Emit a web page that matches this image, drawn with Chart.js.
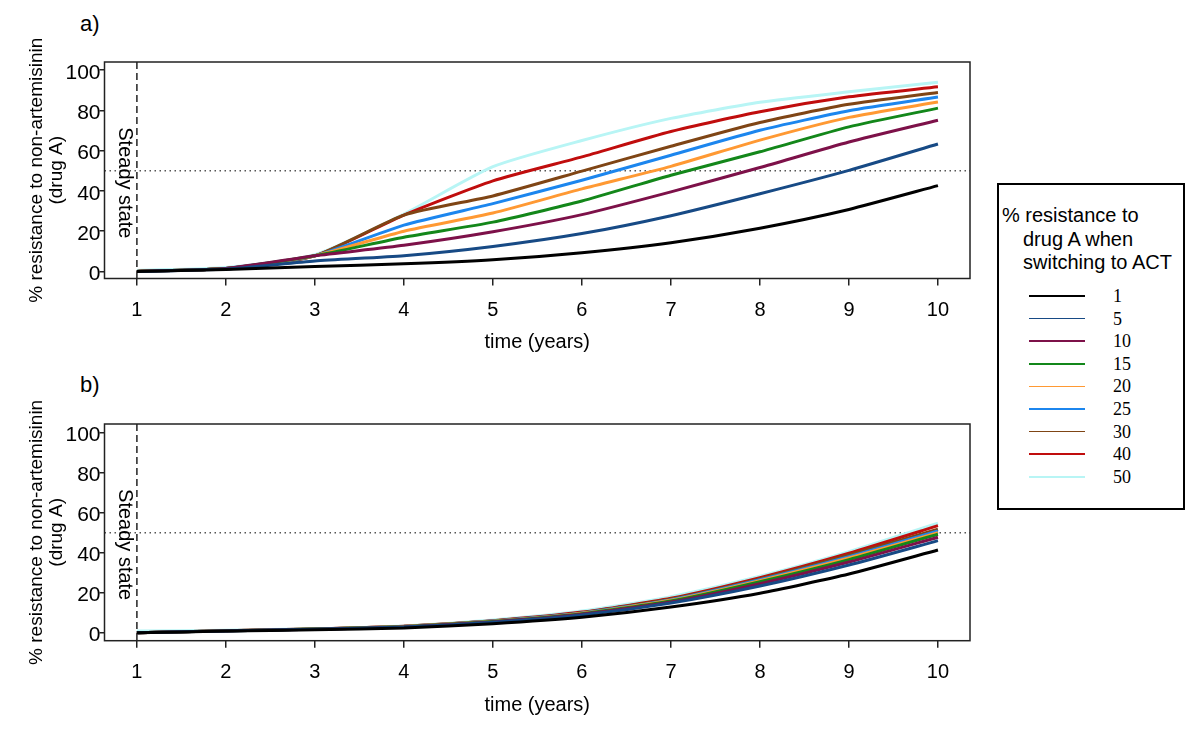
<!DOCTYPE html>
<html>
<head>
<meta charset="utf-8">
<script src="https://cdn.jsdelivr.net/npm/chart.js@4.4.0/dist/chart.umd.min.js"></script>
<style>
    body { margin:0; background:#fff; width:1200px; height:729px; position:relative; overflow:hidden;
           font-family:"Liberation Sans", Arial, sans-serif; color:#000; }
    canvas { position:absolute; left:0; }
    #chartA { top:0; }
    #chartB { top:364px; }
    .panel { position:absolute; left:80px; font-size:22px; line-height:26px; }
    #legend { position:absolute; left:997px; top:183px; width:184px; height:323px; border:2px solid #000; }
    #legendTitle { position:absolute; left:3px; top:19px; width:180px; font-size:20px; line-height:23.5px;
                   padding-left:21px; text-indent:-21px; box-sizing:border-box; }
    .lgLine { position:absolute; left:30px; width:56px; height:1.5px; }
    .lgText { position:absolute; left:114px; font-family:"Liberation Serif", "Times New Roman", serif;
              font-size:18px; line-height:20px; }
</style>
</head>
<body>
<div class="panel" style="top:11px">a)</div>
<div class="panel" style="top:372px">b)</div>
<canvas id="chartA" width="990" height="364"></canvas>
<canvas id="chartB" width="990" height="365"></canvas>
<div id="legend">
    <div id="legendTitle">% resistance to<br>drug A when<br>switching to ACT</div>
</div>
<script>
const years = [1, 2, 3, 4, 5, 6, 7, 8, 9, 10]
const yTicks = [0, 20, 40, 60, 80, 100]

const seriesNames = ['1', '5', '10', '15', '20', '25', '30', '40', '50']
const seriesColors = ['#000000', '#174a85', '#7d1149', '#13871a', '#ff9933',
                      '#1c86ee', '#7f4515', '#c00d0d', '#b8f5f5']

// panel a)
const topS1  = [0, 1.0, 2.5, 3.8, 5.8, 9.3, 14.3, 21.5, 30.8, 42.6]
const topS5  = [0, 1.2, 5.2, 7.8, 12.4, 18.8, 27.7, 38.6, 50.2, 63.3]
const topS10 = [0, 1.5, 7.8, 13.0, 19.7, 28.2, 39.5, 51.6, 64.3, 75.1]
const topS15 = [0, 1.5, 7.8, 17.0, 24.5, 35.0, 47.8, 59.4, 71.8, 81.1]
const topS20 = [0, 1.5, 7.8, 20.0, 29.0, 41.0, 52.2, 65.2, 76.5, 84.1]
const topS25 = [0, 1.5, 7.8, 23.0, 33.7, 45.3, 57.7, 70.1, 79.8, 86.6]
const topS30 = [0, 1.5, 7.8, 28.0, 37.5, 49.8, 62.2, 74.0, 83.0, 88.9]
const topS40 = [0, 1.5, 7.8, 28.0, 45.0, 56.9, 69.5, 79.3, 86.7, 91.7]
const topS50 = [0.5, 2.0, 8.3, 28.5, 52.0, 65.0, 76.0, 84.0, 89.2, 94.0]

// panel b)
const botS1  = [0, 0.8, 1.5, 2.3, 4.5, 7.7, 12.8, 19.7, 29.3, 41.3]
const botS5  = [0, 0.9, 1.7, 2.8, 5.2, 8.8, 14.8, 23.3, 33.8, 46.0]
const botS10 = [0, 0.9, 1.7, 2.9, 5.4, 9.2, 15.3, 24.5, 35.3, 47.7]
const botS15 = [0, 0.9, 1.8, 3.0, 5.6, 9.5, 15.8, 25.5, 36.5, 49.2]
const botS20 = [0, 1.0, 1.8, 3.1, 5.7, 9.7, 16.2, 26.0, 37.3, 50.0]
const botS25 = [0, 1.0, 1.8, 3.1, 5.8, 9.8, 16.5, 26.5, 38.0, 50.8]
const botS30 = [0, 1.0, 1.9, 3.2, 5.9, 10.0, 16.8, 26.9, 38.8, 51.7]
const botS40 = [0, 1.0, 1.9, 3.2, 6.0, 10.3, 17.2, 27.5, 39.7, 53.5]
const botS50 = [0.8, 1.2, 2.0, 3.4, 6.4, 10.8, 18.0, 28.2, 40.5, 54.7]

const steadyYear = 1
const thresholdLevel = 50
const steadyLabelLevel = 44

const sans = '"Liberation Sans", Arial, sans-serif'

// frame box, dashed steady-state line, dotted threshold
const guides = {
    id:'guides',
    beforeDatasetsDraw(chart) {
        const ctx = chart.ctx
        const area = chart.chartArea
        const x = chart.scales.x.getPixelForValue(steadyYear)
        const y50 = chart.scales.y.getPixelForValue(thresholdLevel)

        ctx.save()
        ctx.strokeStyle = '#555'
        ctx.lineWidth = 1.5
        ctx.setLineDash([1.5, 3.5])
        ctx.beginPath()
        ctx.moveTo(area.left, y50)
        ctx.lineTo(area.right, y50)
        ctx.stroke()

        ctx.strokeStyle = '#222'
        ctx.setLineDash([7, 4])
        ctx.beginPath()
        ctx.moveTo(x, area.top)
        ctx.lineTo(x, area.bottom)
        ctx.stroke()

        ctx.translate(x - 12, chart.scales.y.getPixelForValue(steadyLabelLevel))
        ctx.rotate(Math.PI / 2)
        ctx.fillStyle = '#000'
        ctx.font = '20px ' + sans
        ctx.textAlign = 'center'
        ctx.textBaseline = 'middle'
        ctx.fillText('Steady state', 0, 0)
        ctx.restore()
    },
    afterDraw(chart) {
        const ctx = chart.ctx
        const a = chart.chartArea
        ctx.save()
        ctx.strokeStyle = '#222'
        ctx.lineWidth = 1.5
        ctx.strokeRect(a.left, a.top, a.right - a.left, a.bottom - a.top)
        ctx.restore()
    }
}

function makeChart(id, series, padTop, xHeight, yMin, yMax, titlePad) {

    const datasets = series.map((vals, i) => ({
        label:seriesNames[i],
        data:years.map((t, k) => ({ x:t, y:vals[k] })),
        borderColor:seriesColors[i],
        borderWidth:3,
        pointRadius:0,
        tension:0.2,
        fill:false
    }))

    return new Chart(document.getElementById(id), {
        type:'line',
        data:{ datasets:datasets },
        options:{
            responsive:false,
            animation:false,
            devicePixelRatio:1,
            layout:{ padding:{ top:padTop, right:20, left:0, bottom:0 } },
            plugins:{ legend:{ display:false }, tooltip:{ enabled:false } },
            scales:{
                x:{
                    type:'linear',
                    min:0.636,
                    max:10.36,
                    afterBuildTicks:s => { s.ticks = years.map(v => ({ value:v })) },
                    afterFit:s => { s.height = xHeight },
                    grid:{ drawOnChartArea:false, drawTicks:true, tickLength:7, color:'#222', lineWidth:1.5 },
                    border:{ display:false },
                    ticks:{ color:'#000', padding:12.5, font:{ size:20, family:sans } },
                    title:{
                        display:true,
                        text:'time (years)',
                        color:'#000',
                        font:{ size:20, family:sans },
                        padding:{ top:0, bottom:titlePad }
                    }
                },
                y:{
                    min:yMin,
                    max:yMax,
                    afterBuildTicks:s => { s.ticks = yTicks.map(v => ({ value:v })) },
                    afterFit:s => { s.width = 104.5 },
                    grid:{ drawOnChartArea:false, drawTicks:true, tickLength:5, color:'#222', lineWidth:1.5 },
                    border:{ display:false },
                    ticks:{ color:'#000', padding:-1, labelOffset:3, font:{ size:21, family:sans } },
                    title:{
                        display:true,
                        text:['% resistance to non-artemisinin', '(drug A)'],
                        color:'#000',
                        font:{ size:19, family:sans, lineHeight:1.06 },
                        padding:{ top:27, bottom:0 }
                    }
                }
            }
        },
        plugins:[guides]
    })
}

makeChart('chartA',
    [topS1, topS5, topS10, topS15, topS20, topS25, topS30, topS40, topS50],
    62, 85.5, -3.5, 104, 10)

makeChart('chartB',
    [botS1, botS5, botS10, botS15, botS20, botS25, botS30, botS40, botS50],
    60, 88.3, -4, 104.3, 12)

// legend entries
const legend = document.getElementById('legend')
seriesNames.forEach((name, i) => {
    const yMid = 111 + i * 22.6
    const line = document.createElement('div')
    line.className = 'lgLine'
    line.style.top = (yMid - 0.75) + 'px'
    line.style.background = seriesColors[i]
    legend.appendChild(line)

    const txt = document.createElement('div')
    txt.className = 'lgText'
    txt.style.top = (yMid - 10) + 'px'
    txt.textContent = name
    legend.appendChild(txt)
})
</script>
</body>
</html>
